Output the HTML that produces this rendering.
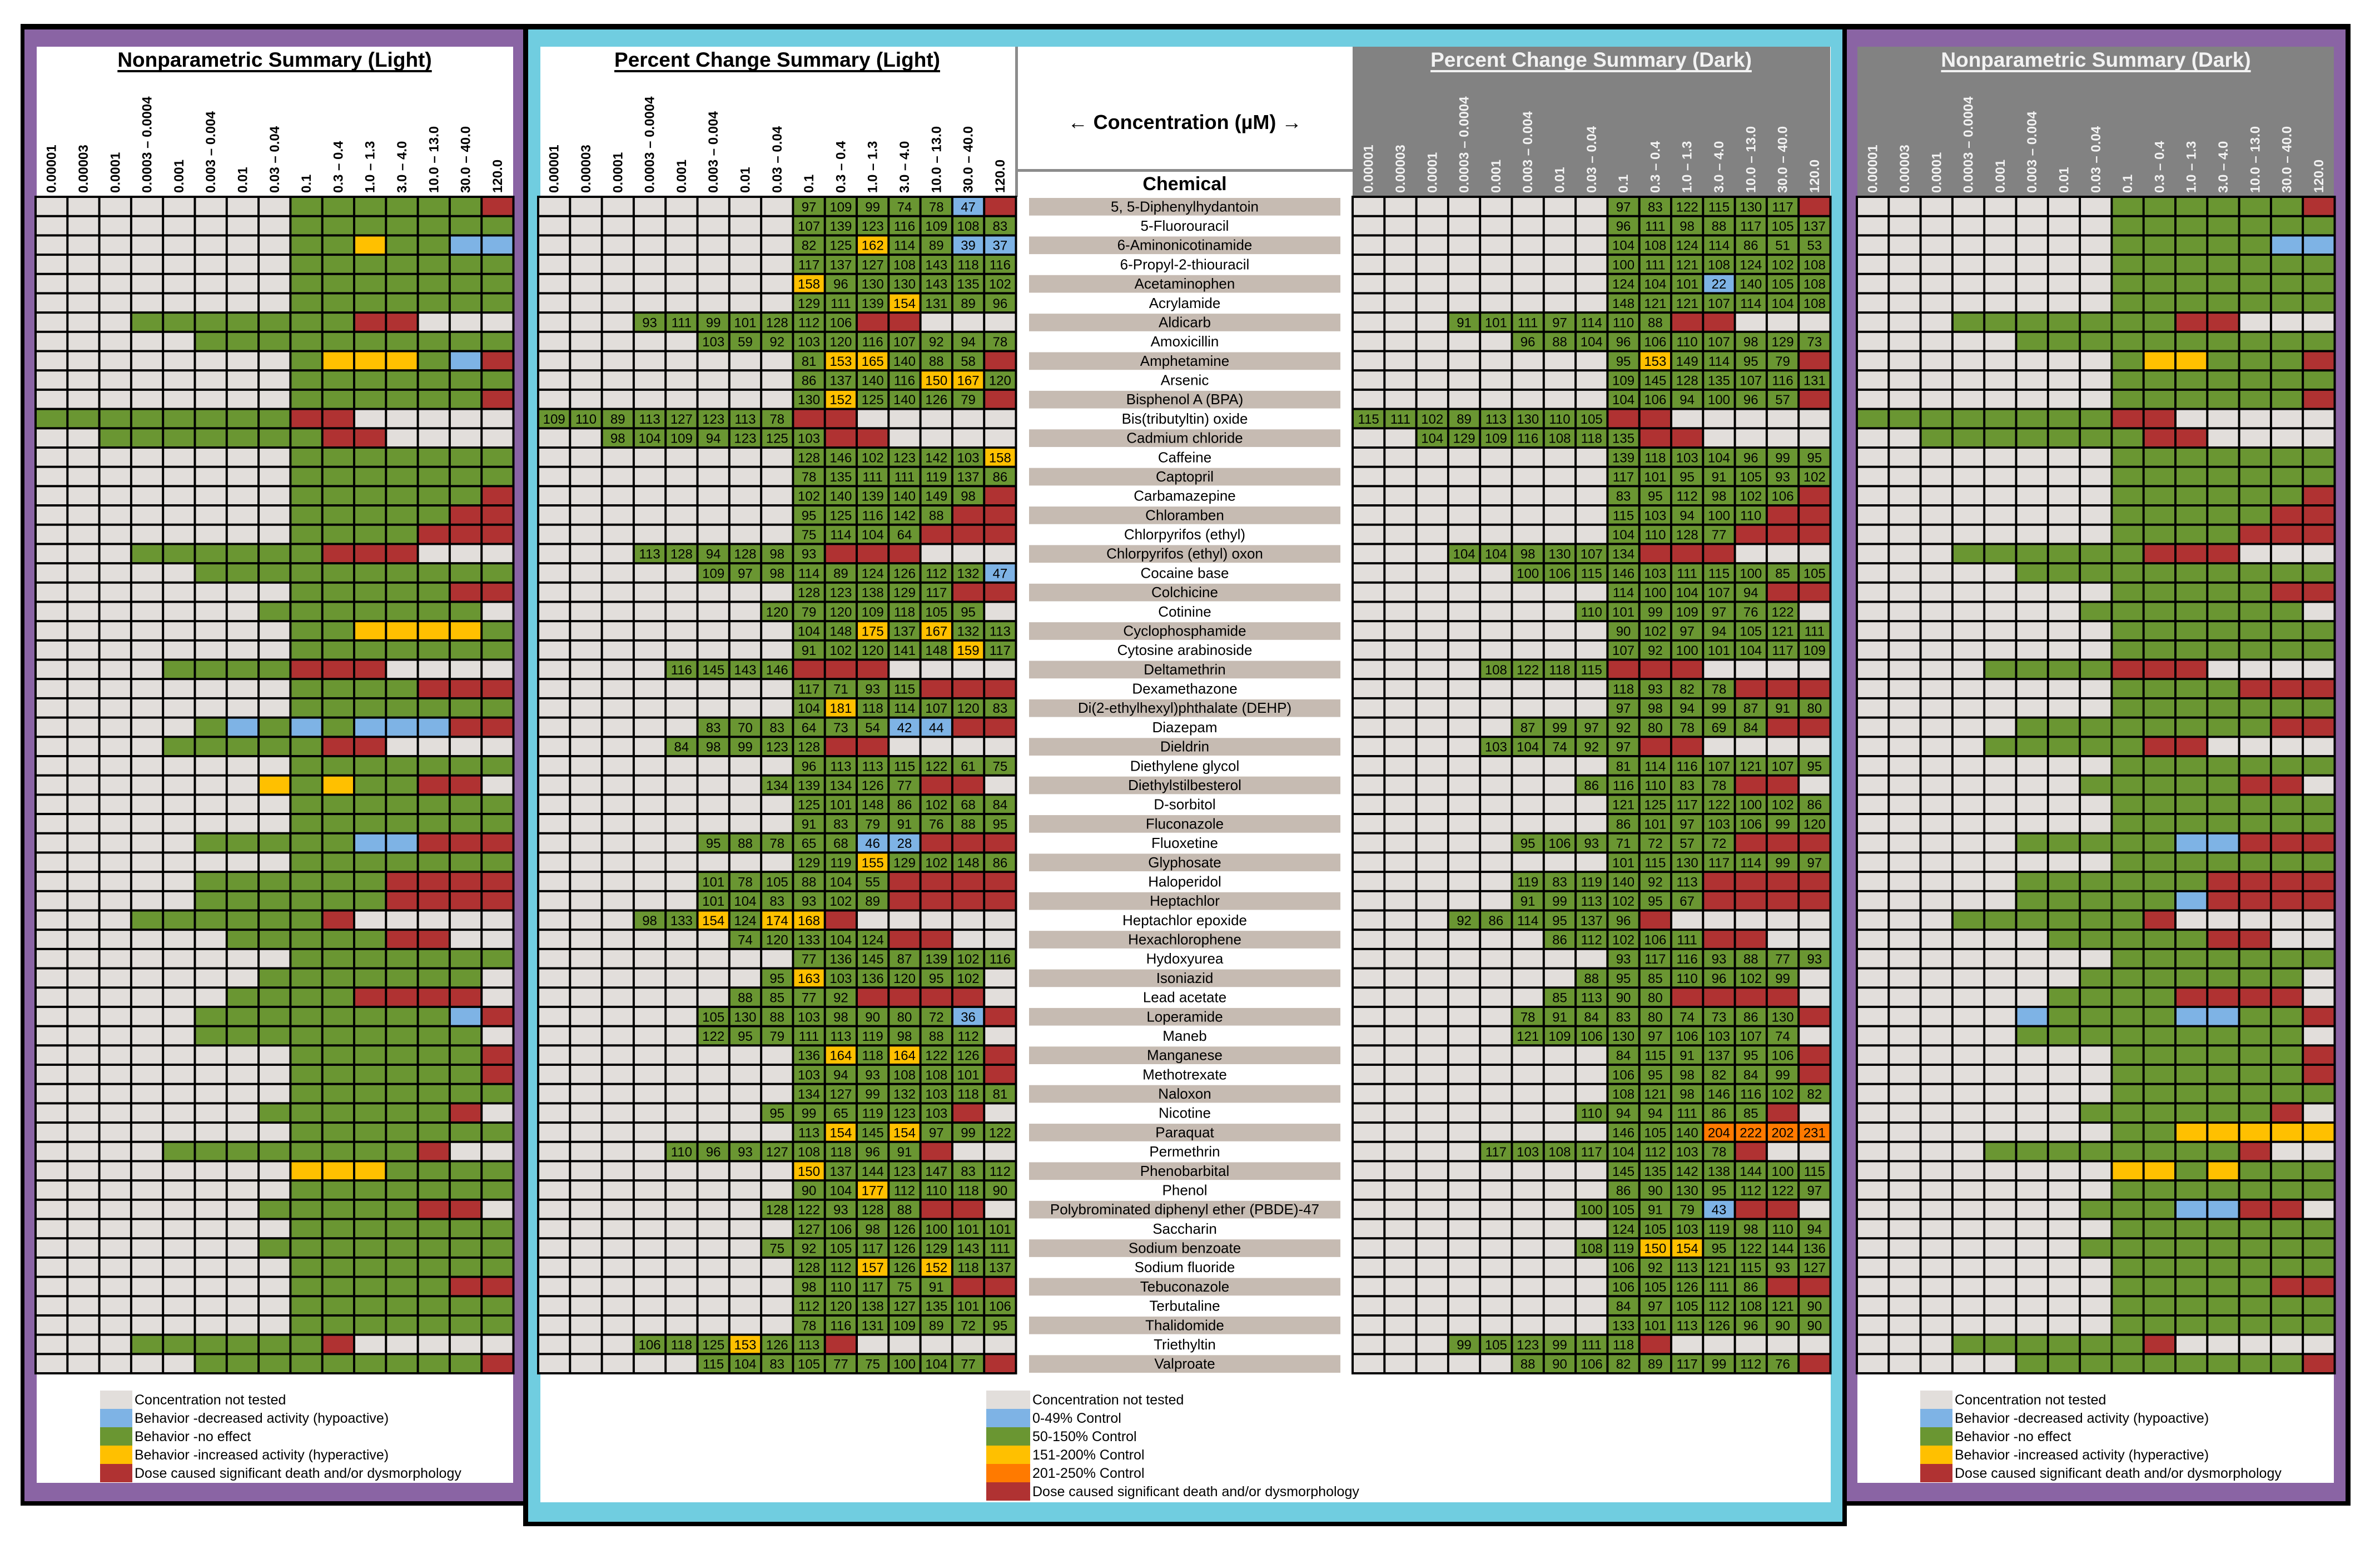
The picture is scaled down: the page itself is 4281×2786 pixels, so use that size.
<!DOCTYPE html>
<html><head><meta charset="utf-8"><title>Zebrafish behavior summary</title>
<style>
html,body{margin:0;padding:0;background:#fff;}
svg{display:block;font-family:"Liberation Sans",Arial,sans-serif;}
</style></head>
<body>
<svg id="chart" xmlns="http://www.w3.org/2000/svg" width="4281" height="2786" viewBox="0 0 4281 2786"></svg>
<script>
const concentrations = ["0.00001","0.00003","0.0001","0.0003 \u2013 0.0004","0.001","0.003 \u2013 0.004","0.01","0.03 \u2013 0.04","0.1","0.3 \u2013 0.4","1.0 \u2013 1.3","3.0 \u2013 4.0","10.0 \u2013 13.0","30.0 \u2013 40.0","120.0"];
const chemicals = ["5, 5-Diphenylhydantoin","5-Fluorouracil","6-Aminonicotinamide","6-Propyl-2-thiouracil","Acetaminophen","Acrylamide","Aldicarb","Amoxicillin","Amphetamine","Arsenic","Bisphenol A (BPA)","Bis(tributyltin) oxide","Cadmium chloride","Caffeine","Captopril","Carbamazepine","Chloramben","Chlorpyrifos (ethyl)","Chlorpyrifos (ethyl) oxon","Cocaine base","Colchicine","Cotinine","Cyclophosphamide","Cytosine arabinoside","Deltamethrin","Dexamethazone","Di(2-ethylhexyl)phthalate (DEHP)","Diazepam","Dieldrin","Diethylene glycol","Diethylstilbesterol","D-sorbitol","Fluconazole","Fluoxetine","Glyphosate","Haloperidol","Heptachlor","Heptachlor epoxide","Hexachlorophene","Hydoxyurea","Isoniazid","Lead acetate","Loperamide","Maneb","Manganese","Methotrexate","Naloxon","Nicotine","Paraquat","Permethrin","Phenobarbital","Phenol","Polybrominated diphenyl ether (PBDE)-47","Saccharin","Sodium benzoate","Sodium fluoride","Tebuconazole","Terbutaline","Thalidomide","Triethyltin","Valproate"];
// percent change (light): "startColumn:values" (R = death/dysmorphology)
const pctLight = ["8:97,109,99,74,78,47,R","8:107,139,123,116,109,108,83","8:82,125,162,114,89,39,37","8:117,137,127,108,143,118,116","8:158,96,130,130,143,135,102","8:129,111,139,154,131,89,96","3:93,111,99,101,128,112,106,R,R","5:103,59,92,103,120,116,107,92,94,78","8:81,153,165,140,88,58,R","8:86,137,140,116,150,167,120","8:130,152,125,140,126,79,R","0:109,110,89,113,127,123,113,78,R,R","2:98,104,109,94,123,125,103,R,R","8:128,146,102,123,142,103,158","8:78,135,111,111,119,137,86","8:102,140,139,140,149,98,R","8:95,125,116,142,88,R,R","8:75,114,104,64,R,R,R","3:113,128,94,128,98,93,R,R,R","5:109,97,98,114,89,124,126,112,132,47","8:128,123,138,129,117,R,R","7:120,79,120,109,118,105,95","8:104,148,175,137,167,132,113","8:91,102,120,141,148,159,117","4:116,145,143,146,R,R,R","8:117,71,93,115,R,R,R","8:104,181,118,114,107,120,83","5:83,70,83,64,73,54,42,44,R,R","4:84,98,99,123,128,R,R","8:96,113,113,115,122,61,75","7:134,139,134,126,77,R,R","8:125,101,148,86,102,68,84","8:91,83,79,91,76,88,95","5:95,88,78,65,68,46,28,R,R,R","8:129,119,155,129,102,148,86","5:101,78,105,88,104,55,R,R,R,R","5:101,104,83,93,102,89,R,R,R,R","3:98,133,154,124,174,168,R","6:74,120,133,104,124,R,R","8:77,136,145,87,139,102,116","7:95,163,103,136,120,95,102","6:88,85,77,92,R,R,R,R","5:105,130,88,103,98,90,80,72,36,R","5:122,95,79,111,113,119,98,88,112","8:136,164,118,164,122,126,R","8:103,94,93,108,108,101,R","8:134,127,99,132,103,118,81","7:95,99,65,119,123,103,R","8:113,154,145,154,97,99,122","4:110,96,93,127,108,118,96,91,R","8:150,137,144,123,147,83,112","8:90,104,177,112,110,118,90","7:128,122,93,128,88,R,R","8:127,106,98,126,100,101,101","7:75,92,105,117,126,129,143,111","8:128,112,157,126,152,118,137","8:98,110,117,75,91,R,R","8:112,120,138,127,135,101,106","8:78,116,131,109,89,72,95","3:106,118,125,153,126,113,R","5:115,104,83,105,77,75,100,104,77,R"];
// percent change (dark)
const pctDark = ["8:97,83,122,115,130,117,R","8:96,111,98,88,117,105,137","8:104,108,124,114,86,51,53","8:100,111,121,108,124,102,108","8:124,104,101,22,140,105,108","8:148,121,121,107,114,104,108","3:91,101,111,97,114,110,88,R,R","5:96,88,104,96,106,110,107,98,129,73","8:95,153,149,114,95,79,R","8:109,145,128,135,107,116,131","8:104,106,94,100,96,57,R","0:115,111,102,89,113,130,110,105,R,R","2:104,129,109,116,108,118,135,R,R","8:139,118,103,104,96,99,95","8:117,101,95,91,105,93,102","8:83,95,112,98,102,106,R","8:115,103,94,100,110,R,R","8:104,110,128,77,R,R,R","3:104,104,98,130,107,134,R,R,R","5:100,106,115,146,103,111,115,100,85,105","8:114,100,104,107,94,R,R","7:110,101,99,109,97,76,122","8:90,102,97,94,105,121,111","8:107,92,100,101,104,117,109","4:108,122,118,115,R,R,R","8:118,93,82,78,R,R,R","8:97,98,94,99,87,91,80","5:87,99,97,92,80,78,69,84,R,R","4:103,104,74,92,97,R,R","8:81,114,116,107,121,107,95","7:86,116,110,83,78,R,R","8:121,125,117,122,100,102,86","8:86,101,97,103,106,99,120","5:95,106,93,71,72,57,72,R,R,R","8:101,115,130,117,114,99,97","5:119,83,119,140,92,113,R,R,R,R","5:91,99,113,102,95,67,R,R,R,R","3:92,86,114,95,137,96,R","6:86,112,102,106,111,R,R","8:93,117,116,93,88,77,93","7:88,95,85,110,96,102,99","6:85,113,90,80,R,R,R,R","5:78,91,84,83,80,74,73,86,130,R","5:121,109,106,130,97,106,103,107,74","8:84,115,91,137,95,106,R","8:106,95,98,82,84,99,R","8:108,121,98,146,116,102,82","7:110,94,94,111,86,85,R","8:146,105,140,204,222,202,231","4:117,103,108,117,104,112,103,78,R","8:145,135,142,138,144,100,115","8:86,90,130,95,112,122,97","7:100,105,91,79,43,R,R","8:124,105,103,119,98,110,94","7:108,119,150,154,95,122,144,136","8:106,92,113,121,115,93,127","8:106,105,126,111,86,R,R","8:84,97,105,112,108,121,90","8:133,101,113,126,96,90,90","3:99,105,123,99,111,118,R","5:88,90,106,82,89,117,99,112,76,R"];
// nonparametric: . untested, G no effect, B hypo, Y hyper, R death
const npLight = ["........GGGGGGR","........GGGGGGG","........GGYGGBB","........GGGGGGG","........GGGGGGG","........GGGGGGG","...GGGGGGGRR...",".....GGGGGGGGGG","........GYYYGBR","........GGGGGGG","........GGGGGGR","GGGGGGGGRR.....","..GGGGGGGRR....","........GGGGGGG","........GGGGGGG","........GGGGGGR","........GGGGGRR","........GGGGRRR","...GGGGGGRRR...",".....GGGGGGGGGG","........GGGGGRR",".......GGGGGGG.","........GGYYYYG","........GGGGGGG","....GGGGRRR....","........GGGGRRR","........GGGGGGG",".....GBGBGBBBRR","....GGGGGRR....","........GGGGGGG",".......YGYGGRR.","........GGGGGGG","........GGGGGGG",".....GGGGGBBRRR","........GGGGGGG",".....GGGGGGRRRR",".....GGGGGGRRRR","...GGGGGGR.....","......GGGGGRR..","........GGGGGGG",".......GGGGGGG.","......GGGGRRRR.",".....GGGGGGGGBR",".....GGGGGGGGG.","........GGGGGGR","........GGGGGGR","........GGGGGGG",".......GGGGGGR.","........GGGGGGG","....GGGGGGGGR..","........YYYGGGG","........GGGGGGG",".......GGGGGRR.","........GGGGGGG",".......GGGGGGGG","........GGGGGGG","........GGGGGRR","........GGGGGGG","........GGGGGGG","...GGGGGGR.....",".....GGGGGGGGGR"];
const npDark = ["........GGGGGGR","........GGGGGGG","........GGGGGBB","........GGGGGGG","........GGGGGGG","........GGGGGGG","...GGGGGGGRR...",".....GGGGGGGGGG","........GYYGGGR","........GGGGGGG","........GGGGGGR","GGGGGGGGRR.....","..GGGGGGGRR....","........GGGGGGG","........GGGGGGG","........GGGGGGR","........GGGGGRR","........GGGGRRR","...GGGGGGRRR...",".....GGGGGGGGGG","........GGGGGRR",".......GGGGGGG.","........GGGGGGG","........GGGGGGG","....GGGGRRR....","........GGGGRRR","........GGGGGGG",".....GGGGGGGGRR","....GGGGGRR....","........GGGGGGG",".......GGGGGRR.","........GGGGGGG","........GGGGGGG",".....GGGGGBBRRR","........GGGGGGG",".....GGGGGGRRRR",".....GGGGGBRRRR","...GGGGGGR.....","......GGGGGRR..","........GGGGGGG",".......GGGGGGG.","......GGGGRRRR.",".....BGGGGBBGGR",".....GGGGGGGGG.","........GGGGGGR","........GGGGGGR","........GGGGGGG",".......GGGGGGR.","........GGYYYYY","....GGGGGGGGR..","........YYGYGGG","........GGGGGGG",".......GGGBBRR.","........GGGGGGG",".......GGGGGGGG","........GGGGGGG","........GGGGGRR","........GGGGGGG","........GGGGGGG","...GGGGGGR.....",".....GGGGGGGGGR"];
const npLegend = ["Concentration not tested","Behavior -decreased activity (hypoactive)","Behavior -no effect","Behavior -increased activity (hyperactive)","Dose caused significant death and/or dysmorphology"];
const pctLegend = ["Concentration not tested","0-49% Control","50-150% Control","151-200% Control","201-250% Control","Dose caused significant death and/or dysmorphology"];

const C = {gray:"#e2dedb", green:"#6a9632", blue:"#7eb3e5", yellow:"#ffc000", orange:"#ff7a00", red:"#b03232", purple:"#8a64a4", cyan:"#70cde0", dark:"#828282", beige:"#c6bbb2"};
const NS = "http://www.w3.org/2000/svg";
const svg = document.getElementById("chart");
function el(tag, attrs, parent){ const e=document.createElementNS(NS,tag); for(const k in attrs) e.setAttribute(k,attrs[k]); (parent||svg).appendChild(e); return e; }

const ROW0 = 354, ROWH = (2470-354)/61, COLW = 57.3;
function yScale(r){ return ROW0 + r*ROWH; }
function xScale(x0,c){ return x0 + c*COLW; }

// frames
const fr = [[37,43,913,2665,"#000"],[3314,43,914,2665,"#000"],[44,53,897,2647,C.purple],[3322,53,897,2647,C.purple],[941,43,2381,2702,"#000"],[950,53,2364,2684,C.cyan],[66,84,857,2583,"#fff"],[3341,84,857,2583,"#fff"],[972,84,2321,2618,"#fff"],[2433,84,859,2388,C.dark],[3341,84,857,270,C.dark]];
fr.forEach((f,i)=>{
  const r = el("rect",{x:f[0],y:f[1],width:f[2],height:f[3],fill:f[4]});
  
  
});
// chemical panel lines
const l1 = el("rect",{x:1826,y:84,width:5,height:270,fill:"#8c8c8c"});


const l2 = el("rect",{x:1831,y:304,width:602,height:5,fill:"#8c8c8c"});



function title(text, cx, color, name){
  const t = el("text",{x:cx,y:120,"text-anchor":"middle","font-size":37,"font-weight":"bold",fill:color});
  t.textContent = text;
  
  
  const w = t.getComputedTextLength();
  const u = el("rect",{x:cx-w/2,y:126,width:w,height:4,fill:color});
  
  
}
function headers(x0, color, name){
  concentrations.forEach((c,i)=>{
    const x = xScale(x0,i) + COLW/2 + 8;
    const t = el("text",{x:x,y:347,transform:`rotate(-90 ${x} 347)`,"font-size":24,"font-weight":"bold",fill:color});
    t.textContent = c;
    
    
  });
}
function colorPct(v){ if(v===null) return C.gray; if(v==='R') return C.red; if(v<50) return C.blue; if(v>200) return C.orange; if(v>=150) return C.yellow; return C.green; }
function parsePct(s){ const p=s.split(':'); const arr=new Array(15).fill(null); p[1].split(',').forEach((v,i)=>{ arr[+p[0]+i] = v==='R' ? 'R' : +v; }); return arr; }
const npMap = {'.':C.gray,G:C.green,B:C.blue,Y:C.yellow,R:C.red};

function gridBg(x0,name){
  const b = el("rect",{x:x0-2,y:ROW0-2,width:15*COLW+4,height:61*ROWH+4,fill:"#000"});
  
  
}
function drawPct(rows, x0, name){
  gridBg(x0,name);
  rows.forEach((s,r)=>{
    const arr = parsePct(s);
    arr.forEach((v,c)=>{
      const cell = el("rect",{x:xScale(x0,c)+2,y:yScale(r)+2,width:COLW-4,height:ROWH-4,fill:colorPct(v)});
      
      
      if(typeof v === 'number'){
        const t = el("text",{x:xScale(x0,c)+COLW/2,y:yScale(r)+ROWH/2+9,"text-anchor":"middle","font-size":24,fill:"#000"});
        t.textContent = v;
        
        
      }
    });
  });
}
function drawNp(rows, x0, name){
  gridBg(x0,name);
  rows.forEach((s,r)=>{
    for(let c=0;c<15;c++){
      const cell = el("rect",{x:xScale(x0,c)+2,y:yScale(r)+2,width:COLW-4,height:ROWH-4,fill:npMap[s[c]]});
      
      
    }
  });
}

title("Nonparametric Summary (Light)", 494, "#000", "nonparametric-light-title");
title("Percent Change Summary (Light)", 1398, "#000", "percent-light-title");
title("Percent Change Summary (Dark)", 2862, "#f2f2f2", "percent-dark-title");
title("Nonparametric Summary (Dark)", 3770, "#f2f2f2", "nonparametric-dark-title");
headers(64, "#000", "nonparametric-light");
headers(968, "#000", "percent-light");
headers(2433, "#f2f2f2", "percent-dark");
headers(3340, "#f2f2f2", "nonparametric-dark");

drawNp(npLight, 64, "nonparametric-light");
drawPct(pctLight, 968, "percent-light");
drawPct(pctDark, 2433, "percent-dark");
drawNp(npDark, 3340, "nonparametric-dark");

const ct = el("text",{x:2131,y:232,"text-anchor":"middle","font-size":36,"font-weight":"bold",fill:"#000"});
ct.textContent = "\u2190 Concentration (\u00b5M) \u2192";


const ch = el("text",{x:2131,y:342,"text-anchor":"middle","font-size":34,"font-weight":"bold",fill:"#000"});
ch.textContent = "Chemical";



chemicals.forEach((n,r)=>{
  if(r%2===0){
    const b = el("rect",{x:1851,y:yScale(r)+2,width:560,height:ROWH-3,fill:C.beige});
    
    
  }
  const t = el("text",{x:2131,y:yScale(r)+ROWH/2+9,"text-anchor":"middle","font-size":26,fill:"#000"});
  t.textContent = n;
  
  
});

function legend(items, colors, sx, sw, name){
  items.forEach((txt,i)=>{
    const y = 2501 + i*33;
    const s = el("rect",{x:sx,y:y,width:sw,height:33,fill:colors[i]});
    
    
    const t = el("text",{x:sx+sw+4,y:y+25,"font-size":25,fill:"#000"});
    t.textContent = txt;
    
    
  });
}
legend(npLegend,[C.gray,C.blue,C.green,C.yellow,C.red],180,58,"nonparametric-light-legend");
legend(pctLegend,[C.gray,C.blue,C.green,C.yellow,C.orange,C.red],1774,79,"percent-legend");
legend(npLegend,[C.gray,C.blue,C.green,C.yellow,C.red],3454,58,"nonparametric-dark-legend");
</script>
</body></html>
